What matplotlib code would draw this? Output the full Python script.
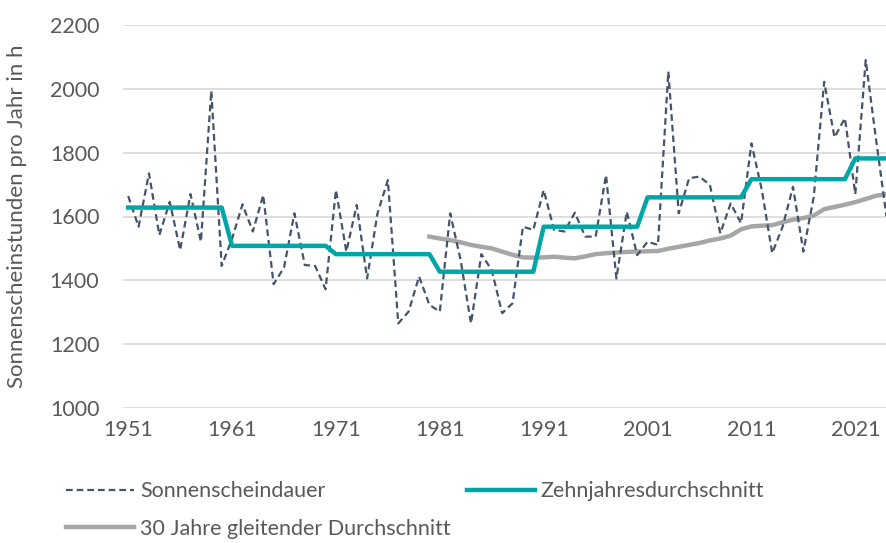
import matplotlib
matplotlib.use("Agg")
import matplotlib.pyplot as plt

# Jahreswerte der Sonnenscheindauer
years = list(range(1951, 2025))
sunshine = [1664, 1568, 1735, 1542, 1646, 1495, 1670, 1521, 1994, 1445,
            1530, 1638, 1553, 1667, 1388, 1440, 1610, 1448, 1445, 1372,
            1683, 1490, 1636, 1406, 1610, 1714, 1265, 1302, 1412, 1323,
            1302, 1610, 1464, 1265, 1482, 1432, 1297, 1328, 1568, 1558,
            1683, 1558, 1553, 1612, 1537, 1537, 1730, 1406, 1615, 1479,
            1521, 1511, 2054, 1610, 1720, 1725, 1699, 1547, 1641, 1579,
            1829, 1683, 1485, 1568, 1693, 1490, 1662, 2022, 1848, 1908,
            1670, 2090, 1840, 1600]

# Zehnjahresdurchschnitt je Dekade
decade_start = [1951, 1961, 1971, 1981, 1991, 2001, 2011, 2021]
decade_mean = [1628, 1508, 1482, 1427, 1568, 1660, 1717, 1782]

# 30 Jahre gleitender Durchschnitt ab 1980
ma_years = list(range(1980, 2025))
ma_values = [1537, 1531, 1526, 1519, 1511, 1505, 1500, 1490, 1480, 1472,
             1471, 1472, 1474, 1471, 1469, 1475, 1482, 1485, 1487, 1489,
             1490, 1491, 1492, 1499, 1505, 1511, 1517, 1525, 1531, 1540,
             1560, 1569, 1571, 1573, 1582, 1590, 1595, 1603, 1623, 1630,
             1637, 1645, 1655, 1665, 1670]

xticks = [1951, 1961, 1971, 1981, 1991, 2001, 2011, 2021]
yticks = [1000, 1200, 1400, 1600, 1800, 2000, 2200]

decade_line = []
for y in years:
    idx = (y - 1951) // 10
    decade_line.append(decade_mean[idx])

plt.rcParams['font.family'] = ['Lato', 'DejaVu Sans']
text_col = '#595959'

fig = plt.figure(figsize=(8.87, 5.43), dpi=100)
ax = fig.add_axes([123 / 887, (543 - 408) / 543, 764 / 887, 383 / 543])

l1, = ax.plot(years, sunshine, color='#44546a', lw=1.6, dashes=(3, 1.8),
              label='Sonnenscheindauer', zorder=3)
l2, = ax.plot(years, decade_line, color='#00a6a6', lw=3.2,
              label='Zehnjahresdurchschnitt', zorder=4)
l3, = ax.plot(ma_years, ma_values, color='#a6a6a6', lw=3.2,
              label='30 Jahre gleitender Durchschnitt', zorder=2)

ax.set_xlim(1950.5, 2024.05)
ax.set_ylim(1000, 2200)
ax.set_xticks(xticks)
ax.set_yticks(yticks)
ax.grid(axis='y', color='#d9d9d9', lw=1.2)
ax.set_axisbelow(True)
for s in ax.spines.values():
    s.set_visible(False)
ax.tick_params(length=0, labelsize=15.5, labelcolor=text_col)
ax.tick_params(axis='y', pad=17)
ax.tick_params(axis='x', pad=9)

ax.set_ylabel('Sonnenscheinstunden pro Jahr in h', fontsize=16, color=text_col)
ax.yaxis.set_label_coords(-0.125, 0.5)

fig.legend(handles=[l1, l3, l2], ncol=2, loc='upper left',
           bbox_to_anchor=(47 / 887, 1 - 462 / 543), frameon=False,
           fontsize=15.5, handlelength=3.15, handletextpad=0.28,
           columnspacing=0.75, labelspacing=0.8, labelcolor=text_col)

fig.savefig('out.png', dpi=100)
